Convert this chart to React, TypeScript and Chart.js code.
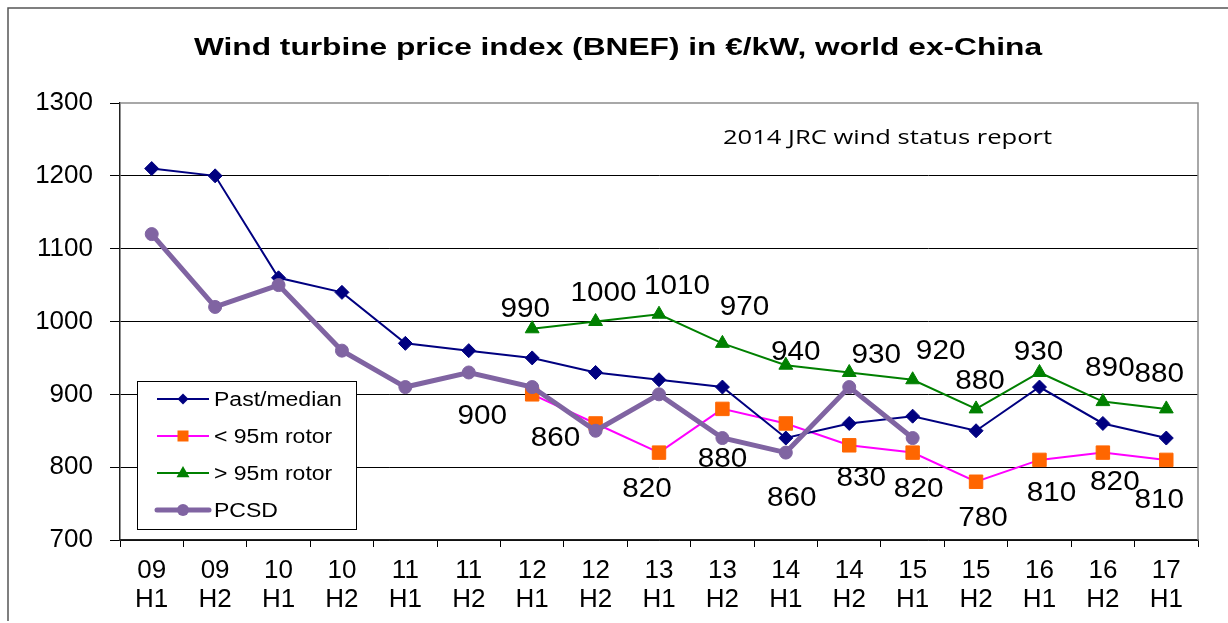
import React, { useEffect, useRef } from 'react';
import { Chart, registerables } from 'chart.js';

Chart.register(...registerables);

// ---------- data ----------
const YEARS = ['09', '09', '10', '10', '11', '11', '12', '12', '13', '13', '14', '14', '15', '15', '16', '16', '17'];
const HALVES = ['H1', 'H2', 'H1', 'H2', 'H1', 'H2', 'H1', 'H2', 'H1', 'H2', 'H1', 'H2', 'H1', 'H2', 'H1', 'H2', 'H1'];
const Y_MIN = 700;
const Y_MAX = 1300;
const Y_STEP = 100;

const PAST_MEDIAN = [1210, 1200, 1060, 1040, 970, 960, 950, 930, 920, 910, 840, 860, 870, 850, 910, 860, 840];
const BELOW_95M = [null, null, null, null, null, null, 900, 860, 820, 880, 860, 830, 820, 780, 810, 820, 810];
const ABOVE_95M = [null, null, null, null, null, null, 990, 1000, 1010, 970, 940, 930, 920, 880, 930, 890, 880];
const PCSD = [1120, 1020, 1050, 960, 910, 930, 910, 850, 900, 840, 820, 910, 840, null, null, null, null];

const SERIES_NAMES = ['Past/median', '< 95m rotor', '> 95m rotor', 'PCSD'];
const TITLE = 'Wind turbine price index (BNEF) in \u20ac/kW, world ex-China';
const NOTE = '2014 JRC wind status report';

// ---------- styling (label placement offsets in px, relative to the point) ----------
const ABOVE_LABEL_OFFSETS: ([number, number] | null)[] = [
  null, null, null, null, null, null,
  [-7, -19], [8, -28], [18, -28], [22, -36], [10, -13], [27, -17], [28, -28], [4, -27], [-1, -20], [7, -33], [-7, -34],
];
const BELOW_LABEL_OFFSETS: ([number, number] | null)[] = [
  null, null, null, null, null, null,
  [-50, 22], [-40, 15], [-12, 37], [0, 51], [6, 75], [12, 33], [6, 37], [7, 37], [12, 34], [12, 30], [-7, 41],
];

const NAVY = '#000080';
const MAGENTA = '#FF00FF';
const ORANGE = '#FF6600';
const GREEN = '#008000';
const PURPLE = '#8064A2';
const FONT = '"Liberation Sans", Arial, sans-serif';

function drawStretched(ctx: CanvasRenderingContext2D, text: string, x: number, y: number, sx: number, align: CanvasTextAlign, baseline: CanvasTextBaseline) {
  ctx.save();
  ctx.translate(x, y);
  ctx.scale(sx, 1);
  ctx.textAlign = align;
  ctx.textBaseline = baseline;
  ctx.fillText(text, 0, 0);
  ctx.restore();
}

function drawMarker(ctx: CanvasRenderingContext2D, style: string, x: number, y: number, r: number, color: string) {
  ctx.save();
  ctx.fillStyle = color;
  ctx.strokeStyle = color;
  ctx.beginPath();
  if (style === 'rectRot') {
    ctx.moveTo(x - r, y);
    ctx.lineTo(x, y - r);
    ctx.lineTo(x + r, y);
    ctx.lineTo(x, y + r);
    ctx.closePath();
  } else if (style === 'rect') {
    ctx.rect(x - r, y - r, 2 * r, 2 * r);
  } else if (style === 'triangle') {
    ctx.moveTo(x, y - r);
    ctx.lineTo(x + r * 0.92, y + r * 0.6);
    ctx.lineTo(x - r * 0.92, y + r * 0.6);
    ctx.closePath();
  } else {
    ctx.arc(x, y, r, 0, Math.PI * 2);
  }
  ctx.fill();
  ctx.restore();
}

const decorPlugin = {
  id: 'decor',
  afterDatasetsDraw(chart: any) {
    const ctx: CanvasRenderingContext2D = chart.ctx;
    const area = chart.chartArea;
    const xs = chart.scales.x;
    const ys = chart.scales.y;

    // plot border (top / right) in grey
    ctx.save();
    ctx.strokeStyle = '#8c8c8c';
    ctx.lineWidth = 1.5;
    ctx.beginPath();
    ctx.moveTo(area.left, area.top);
    ctx.lineTo(area.right, area.top);
    ctx.lineTo(area.right, area.bottom);
    ctx.stroke();
    ctx.restore();

    // outer frame
    ctx.save();
    ctx.strokeStyle = '#555555';
    ctx.lineWidth = 1.5;
    ctx.beginPath();
    ctx.moveTo(8, 621);
    ctx.lineTo(8, 8);
    ctx.lineTo(chart.width, 8);
    ctx.stroke();
    ctx.restore();

    // title
    ctx.save();
    ctx.fillStyle = '#000';
    ctx.font = `bold 24px ${FONT}`;
    const tm = ctx.measureText(TITLE);
    const tw = tm.actualBoundingBoxLeft + tm.actualBoundingBoxRight;
    drawStretched(ctx, TITLE, 618, 55, 849 / tw, 'center', 'alphabetic');
    ctx.restore();

    // note
    ctx.save();
    ctx.fillStyle = '#000';
    ctx.font = `20px "Open Sans", sans-serif`;
    const nm = ctx.measureText(NOTE);
    const nw = nm.actualBoundingBoxLeft + nm.actualBoundingBoxRight;
    drawStretched(ctx, NOTE, 887.5, 144, 329 / nw, 'center', 'alphabetic');
    ctx.restore();

    // data labels
    ctx.save();
    ctx.fillStyle = '#000';
    ctx.font = `27px ${FONT}`;
    ABOVE_95M.forEach((v, i) => {
      const off = ABOVE_LABEL_OFFSETS[i];
      if (v == null || !off) return;
      drawStretched(ctx, String(v), xs.getPixelForValue(i) + off[0], ys.getPixelForValue(v) + off[1], 1.1, 'center', 'middle');
    });
    BELOW_95M.forEach((v, i) => {
      const off = BELOW_LABEL_OFFSETS[i];
      if (v == null || !off) return;
      drawStretched(ctx, String(v), xs.getPixelForValue(i) + off[0], ys.getPixelForValue(v) + off[1], 1.1, 'center', 'middle');
    });
    ctx.restore();

    // legend box
    ctx.save();
    const bx = 137.5, by = 381.5, bw = 219, bh = 148;
    ctx.fillStyle = '#fff';
    ctx.fillRect(bx, by, bw, bh);
    ctx.strokeStyle = '#000';
    ctx.lineWidth = 1;
    ctx.strokeRect(bx, by, bw, bh);
    const items = [
      { color: NAVY, lw: 2, marker: 'rectRot', mcolor: NAVY, r: 5.5 },
      { color: MAGENTA, lw: 2, marker: 'rect', mcolor: ORANGE, r: 5.5 },
      { color: GREEN, lw: 2, marker: 'triangle', mcolor: GREEN, r: 7 },
      { color: PURPLE, lw: 5, marker: 'circle', mcolor: PURPLE, r: 6 },
    ];
    items.forEach((it, i) => {
      const cy = 399 + i * 37;
      ctx.strokeStyle = it.color;
      ctx.lineWidth = it.lw;
      ctx.lineCap = it.lw > 3 ? 'round' : 'butt';
      ctx.beginPath();
      ctx.moveTo(157, cy);
      ctx.lineTo(209, cy);
      ctx.stroke();
      drawMarker(ctx, it.marker, 183, cy, it.r, it.mcolor);
      ctx.fillStyle = '#000';
      ctx.font = `20px ${FONT}`;
      drawStretched(ctx, SERIES_NAMES[i], 214, cy + 7, 1.15, 'left', 'alphabetic');
    });
    ctx.restore();
  },
};

export default function App() {
  const ref = useRef<HTMLCanvasElement | null>(null);

  useEffect(() => {
    if (!ref.current) return;
    const labels = YEARS.map((y, i) => [y, HALVES[i]]);
    const chart = new Chart(ref.current, {
      type: 'line',
      data: {
        labels,
        datasets: [
          {
            label: SERIES_NAMES[0],
            data: PAST_MEDIAN,
            borderColor: NAVY,
            backgroundColor: NAVY,
            borderWidth: 2,
            pointStyle: 'rectRot',
            pointRadius: 7,
            pointBorderWidth: 1,
            order: 2,
          },
          {
            label: SERIES_NAMES[1],
            data: BELOW_95M,
            borderColor: MAGENTA,
            backgroundColor: ORANGE,
            pointBorderColor: ORANGE,
            borderWidth: 2,
            pointStyle: 'rect',
            pointRadius: 9.5,
            pointBorderWidth: 1,
            order: 3,
          },
          {
            label: SERIES_NAMES[2],
            data: ABOVE_95M,
            borderColor: GREEN,
            backgroundColor: GREEN,
            borderWidth: 2,
            pointStyle: 'triangle',
            pointRadius: 8,
            pointBorderWidth: 1,
            order: 4,
          },
          {
            label: SERIES_NAMES[3],
            data: PCSD,
            borderColor: PURPLE,
            backgroundColor: PURPLE,
            borderWidth: 5,
            pointStyle: 'circle',
            pointRadius: 6.5,
            pointBorderWidth: 1,
            order: 1,
          },
        ],
      },
      options: {
        responsive: false,
        animation: false,
        events: [],
        layout: { padding: { top: 103, right: 30, bottom: 0, left: 0 } },
        plugins: {
          legend: { display: false },
          title: { display: false },
          tooltip: { enabled: false },
        },
        elements: { line: { tension: 0 } },
        scales: {
          x: {
            type: 'category',
            offset: true,
            grid: {
              offset: true,
              drawOnChartArea: false,
              drawTicks: true,
              tickLength: 7,
              tickColor: '#000',
              color: '#000',
            },
            border: { color: '#222', width: 1.5 },
            ticks: {
              color: '#000',
              font: { family: FONT, size: 26, lineHeight: 1.1 },
              padding: 10,
              maxRotation: 0,
              autoSkip: false,
            },
            afterFit: (scale: any) => {
              scale.height = 83;
            },
          },
          y: {
            min: Y_MIN,
            max: Y_MAX,
            grid: {
              color: (c: any) => (c.tick && c.tick.value === Y_MAX ? 'rgba(0,0,0,0)' : '#000'),
              tickColor: '#000',
              lineWidth: 1,
              drawTicks: true,
              tickLength: 10,
            },
            border: { color: '#222', width: 1.5 },
            ticks: {
              stepSize: Y_STEP,
              color: '#000',
              font: { family: FONT, size: 26 },
              padding: 17,
              callback: (v: any) => String(v),
            },
            afterFit: (scale: any) => {
              scale.width = 120;
            },
          },
        },
      },
      plugins: [decorPlugin],
    });
    return () => chart.destroy();
  }, []);

  return (
    <div style={{ position: 'fixed', left: 0, top: 0, width: 1228, height: 623, background: '#fff' }}>
      <canvas ref={ref} width={1228} height={623} style={{ display: 'block' }} />
    </div>
  );
}
